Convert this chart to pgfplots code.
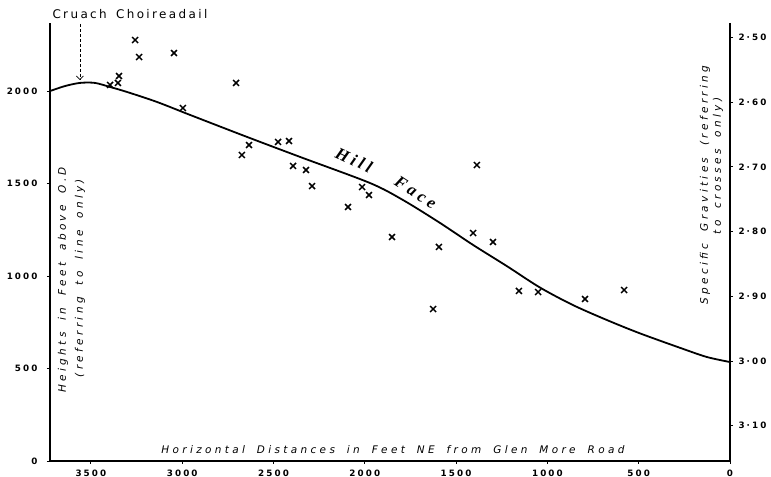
\documentclass[border=0pt]{standalone}
\usepackage{pgfplots}
\pgfplotsset{compat=1.18}
\usetikzlibrary{arrows.meta}
\usepackage{fontspec}
\setmainfont{DejaVu Sans}
\newfontfamily\tickfont[LetterSpace=24]{DejaVu Sans}
\newfontfamily\labfont[LetterSpace=32,WordSpace=1.8]{DejaVu Sans}
\newfontfamily\topfont[LetterSpace=20,WordSpace=1.5]{DejaVu Sans}
\newfontfamily\hillfont[LetterSpace=22]{Liberation Serif}
\begin{document}
\begin{tikzpicture}[x=1bp,y=1bp]
\begin{axis}[
  at={(0,0)}, anchor=south west,
  scale only axis, width=680bp, height=438bp,
  x dir=reverse, xmin=0, xmax=3724,
  ymin=0, ymax=2368,
  axis x line*=bottom, axis y line*=left,
  axis line style={-, line width=1.3pt},
  xtick={0,500,1000,1500,2000,2500,3000,3500},
  ytick={0,500,1000,1500,2000},
  tick align=outside, major tick length=3bp,
  tick style={line width=0.8pt, black},
  ticklabel style={font=\tickfont\fontsize{8.8}{9}\selectfont\bfseries},
  yticklabel style={xshift=-6bp},
  xticklabel style={yshift=-2bp},
  /pgf/number format/assume math mode=true,
  /pgf/number format/set thousands separator={},
  clip=false,
]
\addplot[black, line width=1.8pt, smooth] coordinates {
(3724,2000) (3642,2027) (3560,2044) (3478,2044) (3395,2022) (3302,1995)
(3138,1941) (2957,1871) (2645,1752) (2355,1644) (1972,1503) (1791,1411)
(1588,1287) (1407,1168) (1221,1053) (1041,938) (860,843) (674,762)
(493,690) (257,606) (126,562) (0,535)
};
\node[rotate=90, font=\labfont\fontsize{10.5}{11}\selectfont\itshape] at (axis cs:3653,979) {Heights in Feet above O.D};
\node[rotate=90, font=\labfont\fontsize{10.5}{11}\selectfont\itshape] at (axis cs:3560,989) {(referring to line only)};
\node[rotate=90, font=\labfont\fontsize{10.5}{11}\selectfont\itshape] at (axis cs:137,1492) {Specific Gravities (referring};
\node[rotate=90, font=\labfont\fontsize{10.5}{11}\selectfont\itshape] at (axis cs:66,1595) {to crosses only)};
\node[font=\labfont\fontsize{10.5}{11}\selectfont\itshape] at (axis cs:1846,60) {Horizontal Distances in Feet NE from Glen More Road};
\node[font=\topfont\fontsize{12}{13}\selectfont] at (axis cs:3286,2416) {Cruach Choireadail};
\draw[densely dashed, line width=0.7pt, -{Straight Barb[length=3.5bp]}] (axis cs:3560,2363) -- (axis cs:3560,2060);
\node[rotate=-25, font=\hillfont\fontsize{17}{18}\selectfont\bfseries\itshape] at (axis cs:2059,1628) {Hill};
\node[rotate=-33, font=\hillfont\fontsize{17}{18}\selectfont\bfseries\itshape] at (axis cs:1722,1452) {Face};
\end{axis}
\begin{axis}[
  at={(0,0)}, anchor=south west,
  scale only axis, width=680bp, height=438bp,
  x dir=reverse, xmin=0, xmax=3724,
  y dir=reverse, ymin=2.4776, ymax=3.1546,
  hide x axis, axis y line*=right,
  axis line style={-, line width=1.3pt},
  ytick={2.5,2.6,2.7,2.8,2.9,3.0,3.1},
  yticklabels={2·50,2·60,2·70,2·80,2·90,3·00,3·10},
  tick align=outside, major tick length=3bp,
  tick style={line width=0.8pt, black},
  ticklabel style={font=\tickfont\fontsize{8.8}{9}\selectfont\bfseries},
  yticklabel style={xshift=2bp},
  clip=false,
]
\addplot[only marks, mark=x, mark size=4.2bp, mark options={line width=1.5pt, black}] coordinates {
(3395,2.5734) (3346,2.5595) (3352,2.5703) (3258,2.5039) (3236,2.5302)
(3045,2.5240) (2996,2.6090) (2705,2.5703) (2673,2.6816) (2634,2.6662)
(2475,2.6615) (2415,2.6600) (2393,2.6986) (2322,2.7048) (2289,2.7296)
(2092,2.7620) (2015,2.7311) (1977,2.7435) (1851,2.8084) (1594,2.8238)
(1626,2.9197) (1407,2.8022) (1386,2.6971) (1298,2.8161) (1156,2.8918)
(1051,2.8934) (794,2.9042) (580,2.8903)
};
\end{axis}
\pgfresetboundingbox
\path (-50,-16) rectangle (721,461);
\end{tikzpicture}
\end{document}
